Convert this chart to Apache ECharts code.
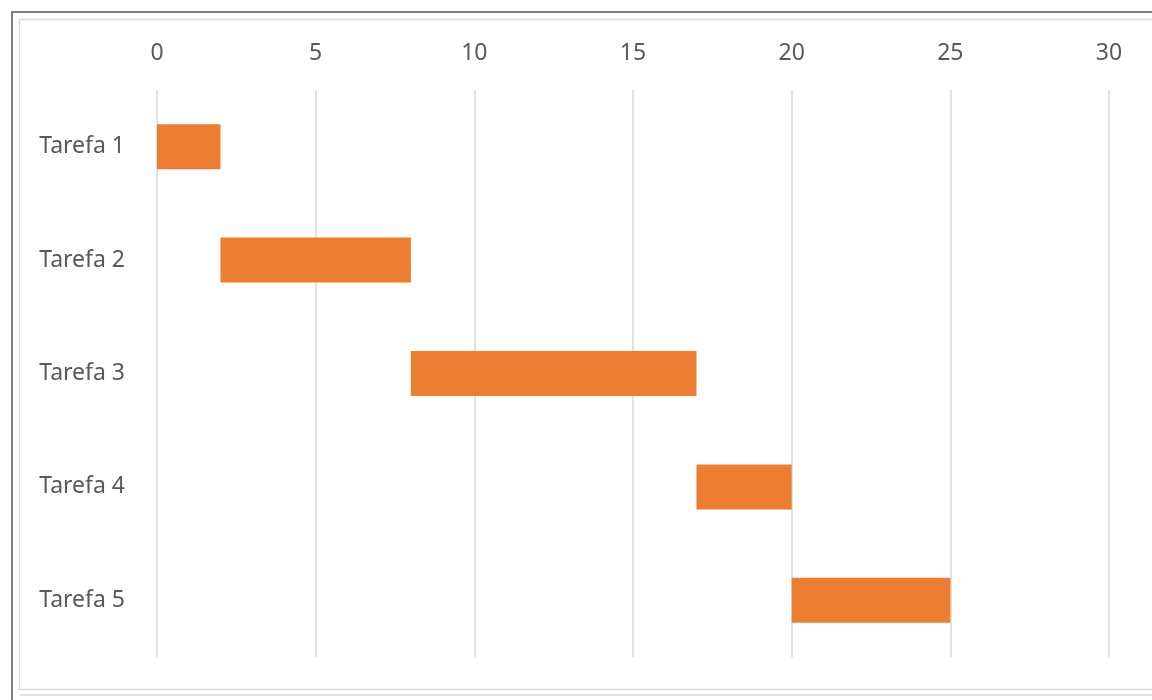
<!DOCTYPE html>
<html>
<head>
<meta charset="utf-8">
<script src="https://cdn.jsdelivr.net/npm/echarts@6/dist/echarts.min.js"></script>
<style>
html,body{margin:0;padding:0;background:#fff;}
#chart{width:1152px;height:700px;}
</style>
</head>
<body>
<div id="chart"></div>
<script>
const tasks = ['Tarefa 1', 'Tarefa 2', 'Tarefa 3', 'Tarefa 4', 'Tarefa 5'];
const startValues = [0, 2, 8, 17, 20];
const durationValues = [2, 6, 9, 3, 5];
const xTicks = [0, 5, 10, 15, 20, 25, 30];

const chart = echarts.init(document.getElementById('chart'));
const font = 'Noto Sans';
chart.setOption({
  animation: false,
  backgroundColor: '#fff',
  graphic: [
    { type: 'rect', shape: { x: 12, y: 12, width: 1200, height: 720 }, style: { fill: 'none', stroke: '#7f7f7f', lineWidth: 2 }, silent: true },
    { type: 'rect', shape: { x: 19.5, y: 19.5, width: 1200, height: 670 }, style: { fill: 'none', stroke: '#d9d9d9', lineWidth: 1.5 }, silent: true },
    { type: 'line', shape: { x1: 20, y1: 695, x2: 1152, y2: 695 }, style: { stroke: '#d9d9d9', lineWidth: 1.5 }, silent: true }
  ],
  grid: { left: 157, right: 43, top: 90, bottom: 43, containLabel: false },
  xAxis: {
    type: 'value',
    position: 'top',
    min: xTicks[0],
    max: xTicks[xTicks.length - 1],
    interval: 5,
    axisLine: { show: false },
    axisTick: { show: false },
    axisLabel: { color: '#595959', fontSize: 23, fontFamily: font, margin: 25 },
    splitLine: { show: true, lineStyle: { color: '#d9d9d9', width: 1.5 } }
  },
  yAxis: {
    type: 'category',
    inverse: true,
    data: tasks,
    axisLine: { show: false },
    axisTick: { show: false },
    axisLabel: { color: '#595959', fontSize: 23, fontFamily: font, margin: 32 }
  },
  series: [
    {
      type: 'bar', stack: 'g', data: startValues,
      itemStyle: { color: 'transparent' }, barWidth: 45, silent: true
    },
    {
      type: 'bar', stack: 'g', data: durationValues,
      itemStyle: { color: '#ED7D31' }, barWidth: 45
    }
  ]
});
</script>
</body>
</html>
